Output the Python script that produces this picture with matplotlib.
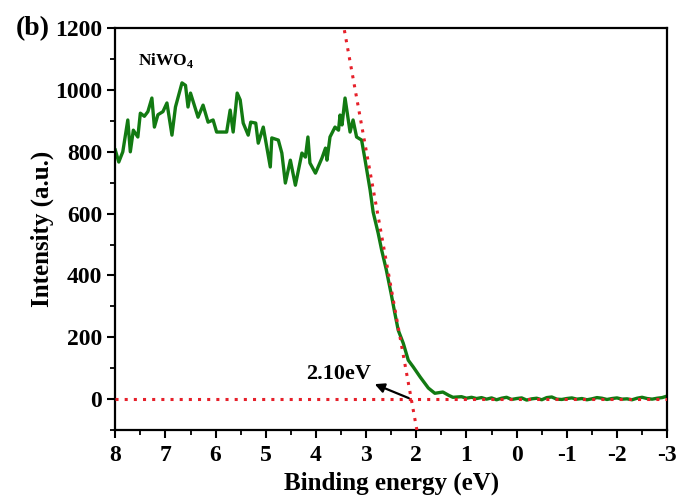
import matplotlib
matplotlib.use("Agg")
import matplotlib.pyplot as plt
from matplotlib.ticker import MultipleLocator

plt.rcParams['font.family'] = ['Liberation Serif', 'DejaVu Serif']
plt.rcParams['font.weight'] = 'bold'
plt.rcParams['mathtext.fontset'] = 'custom'
plt.rcParams['mathtext.rm'] = 'Liberation Serif:bold'
plt.rcParams['mathtext.bf'] = 'Liberation Serif:bold'

# valence band spectrum
energy = [8.0, 7.93, 7.85, 7.75, 7.70, 7.64, 7.55, 7.50, 7.42, 7.35, 7.27, 7.22,
          7.15, 7.05, 6.97, 6.87, 6.80, 6.67, 6.60, 6.55, 6.50, 6.35, 6.25, 6.15,
          6.05, 5.98, 5.78, 5.71, 5.65, 5.57, 5.51, 5.45, 5.35, 5.30, 5.20, 5.15,
          5.05, 4.91, 4.88, 4.75, 4.68, 4.61, 4.51, 4.41, 4.28, 4.21, 4.16, 4.12,
          4.01, 3.88, 3.81, 3.78, 3.72, 3.62, 3.55, 3.52, 3.48, 3.42, 3.32, 3.26,
          3.19, 3.09, 3.02, 2.92, 2.86, 2.76, 2.69, 2.60, 2.50, 2.43, 2.36, 2.26,
          2.16, 2.06, 1.92, 1.76, 1.63, 1.47, 1.35, 1.27, 1.10, 1.0, 0.9, 0.8,
          0.7, 0.6, 0.5, 0.4, 0.3, 0.2, 0.1, 0.0, -0.1, -0.2, -0.3, -0.4, -0.5,
          -0.6, -0.7, -0.8, -0.9, -1.0, -1.1, -1.2, -1.3, -1.4, -1.5, -1.6, -1.7,
          -1.8, -1.9, -2.0, -2.1, -2.2, -2.3, -2.4, -2.5, -2.6, -2.7, -2.8, -2.9, -3.0]
intensity = [806, 767, 800, 903, 800, 870, 848, 925, 915, 930, 974, 880,
             920, 930, 958, 854, 945, 1023, 1015, 945, 990, 912, 951, 896,
             903, 864, 864, 935, 864, 990, 968, 893, 854, 896, 893, 828,
             880, 751, 845, 838, 796, 699, 773, 692, 796, 783, 848, 764,
             731, 780, 812, 773, 848, 880, 870, 919, 887, 974, 864, 903,
             848, 838, 773, 676, 605, 537, 482, 420, 340, 280, 223, 181,
             126, 104, 71, 36, 19, 23, 12, 6, 8, 3, 6, 2,
             5, 0, 4, -2, 3, 6, -1, 2, 4, -3, 1, 3, -2,
             5, 7, 0, -1, 2, 4, 0, 2, -2, 1, 5, 3,
             -1, 2, 4, 0, 1, -2, 3, 6, 2, 0, 3, 5, 10]

gap = 2.10            # band edge from the tangent
slope = 895.0          # tangent slope, counts per eV
y_range = [-100, 1200]

fig, ax = plt.subplots(figsize=(6.78, 5.03), dpi=100)
fig.subplots_adjust(left=0.17, right=0.984, top=0.944, bottom=0.145)

ax.plot(energy, intensity, color='#127a12', lw=2.4, zorder=2)

# extrapolated leading edge and baseline
tan_x = [gap + (y - 0) / slope for y in y_range]
ax.plot(tan_x, y_range, color='#e6202a', lw=2.2, ls=(0, (1, 2)), zorder=3)
ax.plot([8, -3], [0, 0], color='#e6202a', lw=2.2, ls=(0, (1, 2)), zorder=3)

ax.annotate('', xy=(2.88, 52), xytext=(gap, 0),
            arrowprops=dict(arrowstyle='-|>', color='black', lw=1.6,
                            mutation_scale=14))
ax.text(3.54, 82, '2.10eV', fontsize=16, fontweight='bold',
        ha='center', va='center')
ax.text(7.55, 1095, 'NiWO$_\\mathbf{4}$', fontsize=12.5, fontweight='bold',
        ha='left', va='center')
fig.text(0.048, 0.944, '(b)', fontsize=20, fontweight='bold',
         ha='center', va='center')

ax.set_xlim(8, -3)
ax.set_ylim(-100, 1200)
ax.xaxis.set_major_locator(MultipleLocator(1))
ax.xaxis.set_minor_locator(MultipleLocator(0.5))
ax.yaxis.set_major_locator(MultipleLocator(200))
ax.yaxis.set_minor_locator(MultipleLocator(100))
ax.set_xticks(range(8, -4, -1))
ax.set_xticklabels([str(v) for v in range(8, -4, -1)])
ax.tick_params(which='major', direction='out', length=6, width=1.5,
               labelsize=17, top=False, right=False)
ax.tick_params(axis='x', which='major', pad=5)
ax.tick_params(which='minor', direction='out', length=3.5, width=1.3,
               top=False, right=False)
for lab in ax.get_xticklabels() + ax.get_yticklabels():
    lab.set_fontweight('bold')
for s in ax.spines.values():
    s.set_linewidth(1.6)

ax.set_xlabel('Binding energy (eV)', fontsize=18, fontweight='bold', labelpad=4)
ax.set_ylabel('Intensity (a.u.)', fontsize=18, fontweight='bold', labelpad=1)

fig.savefig('out.png', dpi=100)
